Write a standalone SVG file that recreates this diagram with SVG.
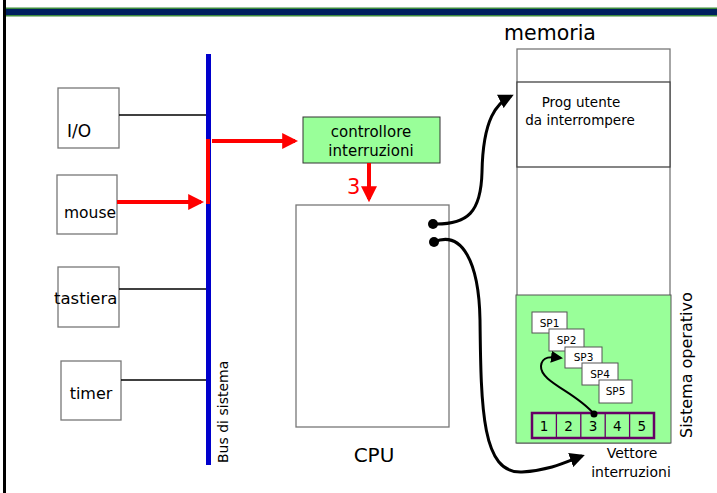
<svg xmlns="http://www.w3.org/2000/svg" width="717" height="493" viewBox="0 0 717 493">
  <style>
    .box { fill: #ffffff; stroke: #777777; stroke-width: 1.3; }
    .wire { stroke: #000000; stroke-width: 1.4; fill: none; }
    .curve { stroke: #000000; stroke-width: 3; fill: none; }
    .red { stroke: #ff0000; stroke-width: 4; fill: none; }
    .txt { font-family: "DejaVu Sans", "Liberation Sans", sans-serif; fill: #000000; }
    .sp { fill: #ffffff; stroke: #555555; stroke-width: 1; }
  </style>
  <defs>
    <marker id="redHead" markerWidth="4" markerHeight="4" refX="3.2" refY="2" orient="auto" markerUnits="strokeWidth">
      <path d="M0,0 L4,2 L0,4 Z" fill="#ff0000"/>
    </marker>
    <marker id="blackHead" markerWidth="5" markerHeight="5" refX="4" refY="2.5" orient="auto" markerUnits="strokeWidth">
      <path d="M0,0 L5,2.5 L0,5 Z" fill="#000000"/>
    </marker>
    <marker id="blackHeadThin" markerWidth="6" markerHeight="6" refX="5" refY="3" orient="auto" markerUnits="strokeWidth">
      <path d="M0,0 L6,3 L0,6 Z" fill="#000000"/>
    </marker>
  </defs>

  <rect width="717" height="493" fill="#ffffff"/>

  <!-- slide frame -->
  <g id="frame">
    <rect x="3" y="7.5" width="714" height="9" fill="#3d8a3d"/>
    <rect x="3" y="9" width="714" height="6" fill="#002060"/>
    <rect x="3" y="0" width="3" height="493" fill="#000000"/>
  </g>

  <!-- system bus -->
  <g id="bus">
    <rect x="206" y="54" width="5" height="411" fill="#0000cc"/>
    <text class="txt" font-size="14" transform="translate(228,463) rotate(-90)">Bus di sistema</text>
  </g>

  <g id="io">
    <rect class="box" x="58" y="88" width="61" height="60"/>
    <text class="txt" x="67" y="137" font-size="17">I/O</text>
  </g>
  <g id="mouse">
    <rect class="box" x="57" y="175" width="60" height="59"/>
    <text class="txt" x="64" y="218" font-size="15.5">mouse</text>
  </g>
  <g id="tastiera">
    <rect class="box" x="58" y="267" width="61" height="60"/>
    <text class="txt" x="54" y="304" font-size="16.5">tastiera</text>
  </g>
  <g id="timer">
    <rect class="box" x="61" y="361" width="60" height="59"/>
    <text class="txt" x="91" y="399" font-size="16" text-anchor="middle">timer</text>
  </g>

  <g id="controllore">
    <rect x="303" y="117" width="137" height="46" fill="#99ff99" stroke="#333333" stroke-width="1"/>
    <text class="txt" x="371" y="137" font-size="15" text-anchor="middle">controllore</text>
    <text class="txt" x="371" y="156" font-size="15" text-anchor="middle">interruzioni</text>
  </g>

  <g id="cpu">
    <rect class="box" x="296" y="205" width="153" height="222"/>
    <text class="txt" x="374" y="462" font-size="20" text-anchor="middle">CPU</text>
  </g>

  <g id="memoria">
    <text class="txt" x="550" y="40" font-size="20.5" text-anchor="middle">memoria</text>
    <rect class="box" x="517" y="49" width="153" height="394"/>
    <rect x="517" y="82" width="153" height="85" fill="#ffffff" stroke="#444444" stroke-width="1.3"/>
    <text class="txt" x="581" y="107" font-size="13.5" text-anchor="middle">Prog utente</text>
    <text class="txt" x="580" y="125" font-size="13.5" text-anchor="middle">da interrompere</text>
  </g>

  <g id="sistema-operativo">
    <rect x="516" y="295" width="155" height="148" fill="#99ff99" stroke="#555555" stroke-width="1"/>
    <text class="txt" font-size="16" transform="translate(692,438) rotate(-90)">Sistema operativo</text>
  </g>

  <g id="sp1">
    <rect class="sp" x="532" y="312" width="35" height="21"/>
    <text class="txt" x="549.5" y="327" font-size="10.5" text-anchor="middle">SP1</text>
  </g>
  <g id="sp2">
    <rect class="sp" x="549" y="329" width="35" height="22"/>
    <text class="txt" x="566.5" y="344" font-size="10.5" text-anchor="middle">SP2</text>
  </g>
  <g id="sp3">
    <rect class="sp" x="565" y="347" width="37" height="21"/>
    <text class="txt" x="583.5" y="361" font-size="10.5" text-anchor="middle">SP3</text>
  </g>
  <g id="sp4">
    <rect class="sp" x="582" y="363" width="36" height="22"/>
    <text class="txt" x="600" y="378" font-size="10.5" text-anchor="middle">SP4</text>
  </g>
  <g id="sp5">
    <rect class="sp" x="599" y="380" width="33" height="23"/>
    <text class="txt" x="615.5" y="395" font-size="10.5" text-anchor="middle">SP5</text>
  </g>

  <g id="vettore">
    <rect x="532" y="413" width="122" height="25" fill="#99ff99" stroke="#660066" stroke-width="2.5"/>
    <g stroke="#660066" stroke-width="1.3">
      <line x1="556.4" y1="413" x2="556.4" y2="438"/>
      <line x1="580.8" y1="413" x2="580.8" y2="438"/>
      <line x1="605.2" y1="413" x2="605.2" y2="438"/>
      <line x1="629.6" y1="413" x2="629.6" y2="438"/>
    </g>
    <g class="txt" font-size="13.5" text-anchor="middle">
      <text x="544" y="431">1</text>
      <text x="568.6" y="431">2</text>
      <text x="593" y="431">3</text>
      <text x="617.4" y="431">4</text>
      <text x="641.8" y="431">5</text>
    </g>
    <text class="txt" x="632" y="458" font-size="14" text-anchor="middle">Vettore</text>
    <text class="txt" x="631" y="477" font-size="14" text-anchor="middle">interruzioni</text>
  </g>

  <!-- connectors -->
  <g id="connectors">
    <line class="wire" x1="119" y1="115" x2="206" y2="115"/>
    <line class="wire" x1="119" y1="289" x2="206" y2="289"/>
    <line class="wire" x1="121" y1="380" x2="206" y2="380"/>
    <!-- interrupt request path -->
    <line class="red" x1="117" y1="202" x2="201" y2="202" marker-end="url(#redHead)"/>
    <polyline class="red" points="206,202 208,202 208,139"/>
    <line class="red" x1="212" y1="141" x2="295" y2="141" marker-end="url(#redHead)"/>
    <line class="red" x1="369" y1="163" x2="369" y2="199" marker-end="url(#redHead)"/>
    <text x="347" y="194" font-family="DejaVu Sans, Liberation Sans, sans-serif" font-size="21" fill="#ff0000">3</text>
    <!-- CPU to memory -->
    <circle cx="433" cy="224" r="5" fill="#000000"/>
    <path class="curve" d="M433,224 C468,225 481,212 482,172 C483,118 497,103 511,96" marker-end="url(#blackHead)"/>
    <circle cx="434" cy="242" r="5" fill="#000000"/>
    <path class="curve" d="M434,242 C462,230 479,262 480,320 C481,410 482,474 522,472 C552,470 568,461 582,456" marker-end="url(#blackHead)"/>
    <!-- vector entry 3 to SP3 -->
    <circle cx="594" cy="414" r="3.5" fill="#000000"/>
    <path d="M594,414 C576,392 540,382 541,366 C542,355 553,357 561,358" stroke="#000000" stroke-width="2" fill="none" marker-end="url(#blackHeadThin)"/>
  </g>
</svg>
